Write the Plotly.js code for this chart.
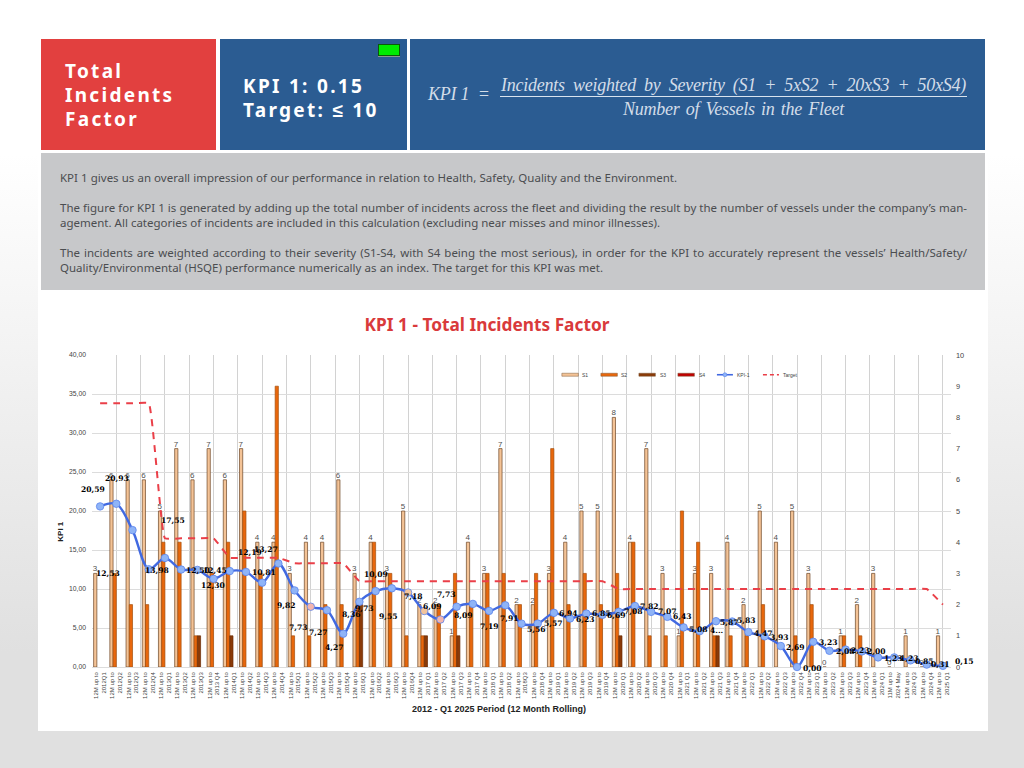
<!DOCTYPE html>
<html><head><meta charset="utf-8">
<script src="https://cdn.plot.ly/plotly-3.0.1.min.js"></script>
<style>
html,body{margin:0;padding:0;width:1024px;height:768px;overflow:hidden}
body{background:linear-gradient(180deg,#fff 0%,#fff 20%,#e0e0e0 85%,#e0e0e0 100%);position:relative;font-family:"Noto Sans",sans-serif}
.abs{position:absolute}
.hd{color:#fff;font-weight:700;font-size:19px;letter-spacing:2.3px;white-space:nowrap;line-height:24px}
.ln{position:absolute;left:60px;font-size:11.5px;line-height:15px;height:15px;color:#4b4d50;text-align:justify;text-align-last:justify}
.f{position:absolute;font-family:"Liberation Serif",serif;font-style:italic;color:#d3dde9;font-size:18px;letter-spacing:-0.25px;white-space:nowrap;line-height:20px}
</style></head><body>
<div class="abs" style="left:38px;top:38px;width:950px;height:693px;background:#fff"></div>
<div class="abs" style="left:41px;top:39px;width:175px;height:111px;background:#e2403f"></div>
<div class="abs" style="left:220px;top:39px;width:187px;height:111px;background:#2b5c92"></div>
<div class="abs" style="left:410px;top:39px;width:575px;height:111px;background:#2b5c92"></div>
<div class="abs" style="left:41px;top:153px;width:944px;height:137px;background:#c7c8ca"></div>
<div class="abs hd" style="left:65px;top:59px">Total</div>
<div class="abs hd" style="left:65px;top:83px">Incidents</div>
<div class="abs hd" style="left:65px;top:107px">Factor</div>
<div class="abs hd" style="left:243px;top:74px">KPI 1: 0.15</div>
<div class="abs hd" style="left:243px;top:98px">Target: ≤ 10</div>
<div class="abs" style="left:378px;top:44px;width:20px;height:10px;background:#00ec00;border:1px solid #0a5a0a;box-shadow:0 1px 0 #8a9a8a"></div>
<div class="f" style="left:428px;top:84px">KPI 1 &nbsp;=</div>
<div class="f" style="left:501px;top:75px;width:465px;text-align:justify;text-align-last:justify">Incidents weighted by Severity (S1 + 5xS2 + 20xS3 + 50xS4)</div>
<div class="abs" style="left:500px;top:96px;width:467px;height:1px;background:#d9e3ee"></div>
<div class="f" style="left:500px;top:99px;width:467px;text-align:center;word-spacing:2px">Number of Vessels in the Fleet</div>
<div class="ln" style="top:170px;width:617px">KPI 1 gives us an overall impression of our performance in relation to Health, Safety, Quality and the Environment.</div>
<div class="ln" style="top:200px;width:907px">The figure for KPI 1 is generated by adding up the total number of incidents across the fleet and dividing the result by the number of vessels under the company’s man-</div>
<div class="ln" style="top:215px;width:600px">agement. All categories of incidents are included in this calculation (excluding near misses and minor illnesses).</div>
<div class="ln" style="top:245px;width:907px">The incidents are weighted according to their severity (S1-S4, with S4 being the most serious), in order for the KPI to accurately represent the vessels’ Health/Safety/</div>
<div class="ln" style="top:260px;width:543px">Quality/Environmental (HSQE) performance numerically as an index. The target for this KPI was met.</div>
<div id="chart" class="abs" style="left:38px;top:290px;width:950px;height:441px"></div>
<script>
const categories=["2012Q1","2012Q2","2012Q3","2012Q4","2013Q1","2013Q2","2013Q3","2013 Q4","2014Q1","2014Q2","2014Q3","2014Q4","2015Q1","2015Q2","2015Q3","2015Q4","2016Q1","2016Q2","2016Q3","2016Q4","2017 Q1","2017 Q2","2017 Q3","2017 Q4","2018 Q1","2018 Q2","2018Q3","2018 Q4","2019 Q1","2019 Q2","2019 Q3","2019 Q4","2020 Q1","2020 Q2","2020 Q3","2020 Q4","2021 Q1","2021 Q2","2021 Q3","2021 Q4","2022 Q1","2022 Q2","2022 Q3","2022 Q4","2023 Q1","2023 Q2","2023 Q3","2023 Q4","2024 Q1","2024 May","2024 Q3","2024 Q4","2025 Q1"];
const periodPrefix=categories.map(c=>c==="2024 May"?"11M up to":"12M up to");
const s1=[3,6,6,6,5,7,6,7,6,7,4,4,3,4,4,6,3,4,3,5,2,2,1,4,3,7,2,2,3,4,5,5,8,4,7,3,1,3,3,4,2,5,4,5,3,0,1,2,3,0,1,0,1];
const s2=[0,3,2,2,4,4,1,3,4,5,3,9,1,1,2,2,2,4,3,1,1,2,3,2,3,3,2,3,7,2,3,2,3,4,1,1,5,4,1,1,1,2,0,1,2,0,1,1,0,0,0,0,0];
const s3=[0,0,0,0,0,0,1,0,1,0,0,0,0,0,0,0,2,0,0,0,1,0,1,0,0,0,0,0,0,0,0,0,1,0,0,0,0,0,1,0,0,0,0,0,0,0,0,0,0,0,0,0,0];
const s4=s1.map(()=>0);
const kpi=[20.59,20.93,17.55,12.53,13.98,12.50,12.45,11.30,12.30,12.19,10.81,13.27,9.82,7.73,7.27,4.27,8.36,9.73,10.09,9.55,7.18,6.09,7.73,8.09,7.19,7.91,5.56,5.57,6.94,6.23,6.85,6.69,7.08,7.82,7.07,6.43,5.08,4.60,5.87,5.83,4.47,3.93,2.69,0.00,3.23,2.08,2.23,2.00,1.23,1.23,0.85,0.31,0.15];
const target=[33.8,33.8,33.8,33.8,16.5,16.5,16.5,16.5,14,14,14,14,13.3,13.3,13.3,13.3,11,11,11,11,11,11,11,11,11,11,11,11,11,11,11,11,10,10,10,10,10,10,10,10,10,10,10,10,10,10,10,10,10,10,10,10,8];
const kpiLabels=["20,59","20,93","17,55","12,53","13,98","12,50","12,45","12,30","","12,19","10,81","13,27","9,82","7,73","7,27","4,27","8,36","9,73","10,09","9,55","7,18","6,09","7,73","8,09","7,19","7,91","5,56","5,57","6,94","6,23","6,85","6,69","7,08","7,82","7,07","6,43","5,08","4...","5,87","5,83","4,47","3,93","2,69","0,00","3,23","2,08","2,23","2,00","1,23","1,23","0,85","0,31","0,15"];
const labelDx=[-7,1,40,-41,-8,17,18,-1,0,4,2,-12,-8,-12,-9,-9,-8,-11,-16,-20,-11,-8,-10,-9,0,4,15,16,15,15,15,14,15,15,16,15,15,17,14,14,15,15,15,15,15,16,15,15,15,15,14,14,22];
const labelDy=[-17,-25,-10,4,13,1,1,7,0,-19,-10,-14,15,21,22,14,13,17,-14,24,-15,-13,-12,12,16,13,6,0,1,1,0,1,0,0,0,0,2,-1,1,-1,1,1,1,1,1,1,1,0,1,1,1,0,-4];
const markerColors=kpi.map((_,i)=>i===13||i===21?"#f2b6b0":(i===19||i===20?"#f3c49c":"#8fb4f7"));
const idx=categories.map((_,i)=>i);
const ticktext=categories.map((c,i)=>periodPrefix[i]+"<br>"+c);
const legendNames=["S1","S2","S3","S4","KPI-1","Target"];
const C1="#f4c396",C2="#e8670c",C3="#8a3a08",C4="#c00000",CK="#4169e1",CT="#ea3f48";
const nz=a=>a.map(v=>v===0?null:v);
const bar=(n,y,c,lc,extra)=>Object.assign({type:"bar",name:n,x:idx,y:y,xaxis:"x",yaxis:"y",marker:{color:c,line:{color:lc,width:0.7}},showlegend:false,hoverinfo:"y+name"},extra||{});
const traces=[
 bar("S1",s1,C1,"#6d4626",{text:s1.map(String),textposition:"outside",textangle:0,constraintext:"none",cliponaxis:false,textfont:{family:"Liberation Sans",size:8,color:"#505050"}}),
 bar("S2",nz(s2),C2,"#a5500f"),
 bar("S3",nz(s3),C3,"#6a2c06"),
 bar("S4",nz(s4),C4,"#900000"),
 {type:"scatter",mode:"lines",name:"Target",x:idx,y:target,xaxis:"x2",yaxis:"y2",line:{color:CT,width:2,dash:"7px,6px",shape:"spline",smoothing:0.3},showlegend:false},
 {type:"scatter",mode:"lines+markers",name:"KPI-1",x:idx,y:kpi,xaxis:"x2",yaxis:"y2",line:{color:CK,width:2.4,shape:"spline",smoothing:0.9},marker:{size:7.5,color:markerColors,line:{color:"#5b84ee",width:0.8}},showlegend:false,cliponaxis:false}
];
const W=950,H=441,L=54.3,R=37,T=65.3,B=64.3,pw=W-L-R;
const px=v=>(v-92.3)/pw; // page x to paper x, for the hand-made legend
const py=v=>1-(v-355.3)/(H-T-B);
const annotations=kpiLabels.map((t,i)=>({text:t,x:i,y:kpi[i],xref:"x2",yref:"y2",xshift:labelDx[i],yshift:-labelDy[i],showarrow:false,font:{family:"DejaVu Serif",size:7.6,color:"#000",weight:700}})).filter(a=>a.text);
annotations.push({text:"<b>2012 - Q1 2025 Period (12 Month Rolling)</b>",xref:"paper",yref:"paper",x:px(499.6),y:py(709),xanchor:"center",yanchor:"middle",showarrow:false,font:{family:"Liberation Sans",size:9,color:"#222"}});
annotations.push({text:"<b>KPI 1</b>",textangle:-90,xref:"paper",yref:"paper",x:px(60),y:py(531),xanchor:"center",yanchor:"middle",showarrow:false,font:{family:"Liberation Sans",size:8,color:"#222"}});
const legendX=[562,601,639,678,717,763];
const legendTextX=[580,619,658,697,735,781];
const legendColors=[C1,C2,C3,C4,CK,CT];
const shapes=[];
legendNames.forEach((n,i)=>{
 annotations.push({text:n,xref:"paper",yref:"paper",x:px(legendTextX[i]),y:py(375),xanchor:"left",yanchor:"middle",showarrow:false,font:{family:"Liberation Sans",size:5,color:"#444"}});
 if(i<4) shapes.push({type:"rect",xref:"paper",yref:"paper",x0:px(legendX[i]),x1:px(legendX[i]+16.5),y0:py(376.5),y1:py(373.5),fillcolor:legendColors[i],line:{color:"#7a5a3a",width:0.5}});
 else shapes.push({type:"line",xref:"paper",yref:"paper",x0:px(legendX[i]),x1:px(legendX[i]+16),y0:py(375),y1:py(375),line:{color:legendColors[i],width:1.6,dash:i===5?"4px,3px":"solid"}});
});
shapes.push({type:"circle",xref:"paper",yref:"paper",x0:px(723),x1:px(727),y0:py(377),y1:py(373),fillcolor:"#8fb4f7",line:{color:"#5b84ee",width:0.6}});
const layout={
 width:W,height:H,margin:{l:L,r:R,t:T,b:B,pad:0},paper_bgcolor:"rgba(0,0,0,0)",plot_bgcolor:"#fff",
 separators:",.",barmode:"group",bargap:0.2,bargroupgap:0,hovermode:false,
 title:{text:"<b>KPI 1 - Total Incidents Factor</b>",xref:"container",yref:"container",x:(487-38)/W,y:1-35/H,xanchor:"center",yanchor:"middle",font:{family:"Noto Sans",size:17.3,color:"#d93a3b"}},
 xaxis:{range:[-0.5,52.5],tickmode:"array",tickvals:idx,ticktext:ticktext,tickangle:-90,tickfont:{family:"Liberation Sans",size:6,color:"#444"},showgrid:false,zeroline:false,showline:false,ticks:"",automargin:false,ticklabelstandoff:3},
 xaxis2:{overlaying:"x",anchor:"y2",side:"bottom",range:[-0.5,52.5],tickmode:"linear",tick0:-0.5,dtick:1.5,showgrid:true,gridcolor:"#d2d2d2",gridwidth:1,showticklabels:false,zeroline:false,ticks:""},
 yaxis:{range:[0,10],side:"right",dtick:1,tickmode:"linear",showgrid:false,zeroline:false,tickfont:{family:"Liberation Sans",size:7.4,color:"#444"},ticks:"",ticklabelstandoff:4},
 yaxis2:{overlaying:"y",anchor:"x2",side:"left",range:[0,40],dtick:5,tickmode:"linear",tickformat:".2f",showgrid:true,gridcolor:"#dcdcdc",gridwidth:1,zeroline:true,zerolinecolor:"#dcdcdc",tickfont:{family:"Liberation Sans",size:6.8,color:"#444"},ticks:"",ticklabelstandoff:5},
 annotations:annotations,shapes:shapes,showlegend:false
};
Plotly.newPlot("chart",traces,layout,{displayModeBar:false,staticPlot:true});
</script>
</body></html>
